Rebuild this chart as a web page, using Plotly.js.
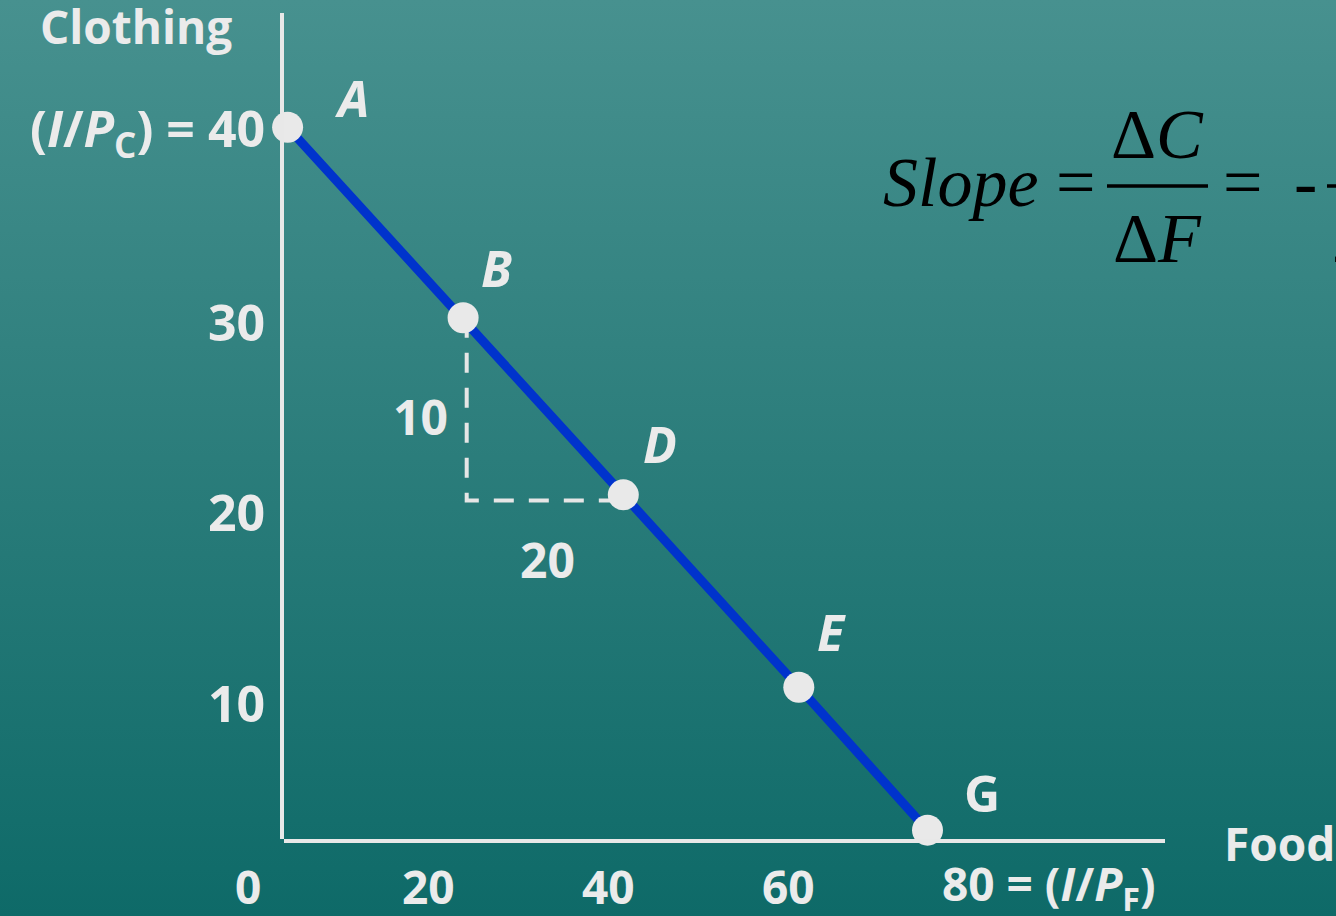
<!DOCTYPE html>
<html>
<head>
<meta charset="utf-8">
<script src="https://cdn.plot.ly/plotly-3.0.1.min.js"></script>
<style>
  html, body { margin: 0; padding: 0; }
  body { width: 1336px; height: 916px; overflow: hidden;
         background: linear-gradient(to bottom, #47918f 0%, #2b7d7b 50%, #0e6a68 100%); }
  #chart { width: 1336px; height: 916px; }
</style>
</head>
<body>
<div id="chart"></div>
<script>
// ---- data (chart units) ----
const pointLabels = ["A", "B", "D", "E", "G"];
const food        = [4.4, 23.9, 41.7, 61.2, 75.5];
const clothing    = [40.2, 30.2, 20.9, 10.8, 3.3];

const dashFood     = [24.3, 24.3, 41.7];
const dashClothing = [30.2, 20.6, 20.6];

const xTickVals = [0, 20, 40, 60, 80];
const xTickText = ["0", "20", "40", "60", "80 = (<i>I</i>/<i>P</i><sub>F</sub>)"];
const yTickVals = [10, 20, 30, 40];
const yTickText = ["10", "20", "30", "(<i>I</i>/<i>P</i><sub>C</sub>) = 40"];

const riseLabel = "10";
const runLabel  = "20";

// ---- layout helpers (pixel placement -> axis units) ----
const W = 1336, H = 916;
const X0PX = 248, XPXU = 9;        // px of food=0, px per unit
const Y40PX = 131, YPXU = 19.05;   // px of clothing=40, px per unit
const fx = px => (px - X0PX) / XPXU;
const fy = py => 40 - (py - Y40PX) / YPXU;

const WHITE = "#ebebeb";
const SANS = "'Open Sans', 'DejaVu Sans', sans-serif";
const SERIF = "'Liberation Serif', 'Times New Roman', serif";

const traces = [
  { type: "scatter", mode: "lines", x: dashFood, y: dashClothing,
    line: { color: "#e6e6e6", width: 4, dash: "20px,15px" },
    hoverinfo: "skip", cliponaxis: false },
  { type: "scatter", mode: "lines+markers", x: food, y: clothing,
    line: { color: "#0033cc", width: 9 },
    marker: { size: 31, color: "#e9e9e9" },
    cliponaxis: false, hoverinfo: "x+y" }
];

const labelShift = [[64, 29], [33, 50], [37, 51], [33, 55], [54, 37]];
const annotations = [];

pointLabels.forEach((t, i) => {
  annotations.push({
    x: food[i], y: clothing[i], xref: "x", yref: "y", showarrow: false,
    text: t === "G" ? t : "<i>" + t + "</i>",
    xshift: labelShift[i][0], yshift: labelShift[i][1],
    font: { family: SANS, size: 50, color: WHITE, weight: "bold" }
  });
});

xTickVals.forEach((v, i) => {
  const last = i === xTickVals.length - 1;
  annotations.push({
    x: v, y: fy(886), xref: "x", yref: "y", showarrow: false,
    text: xTickText[i], xanchor: last ? "left" : "center", yanchor: "middle",
    xshift: last ? -28 : 0,
    font: { family: SANS, size: 46, color: WHITE, weight: "bold" }
  });
});

yTickVals.forEach((v, i) => {
  annotations.push({
    x: fx(267), y: v, xref: "x", yref: "y", showarrow: false,
    text: yTickText[i], xanchor: "right", yanchor: "middle",
    font: { family: SANS, size: 50, color: WHITE, weight: "bold" }
  });
});

// rise / run labels
annotations.push({ x: fx(420), y: fy(416), xref: "x", yref: "y", showarrow: false,
  text: riseLabel, font: { family: SANS, size: 48, color: WHITE, weight: "bold" } });
annotations.push({ x: fx(547), y: fy(559), xref: "x", yref: "y", showarrow: false,
  text: runLabel, font: { family: SANS, size: 48, color: WHITE, weight: "bold" } });

// axis titles
annotations.push({ x: fx(136), y: fy(26), xref: "x", yref: "y", showarrow: false,
  text: "Clothing", font: { family: SANS, size: 46, color: WHITE, weight: "bold" } });
annotations.push({ x: fx(1222), y: fy(843), xref: "x", yref: "y", showarrow: false,
  text: "Food", xanchor: "left",
  font: { family: SANS, size: 46, color: WHITE, weight: "bold" } });

// slope formula
const fF = { family: SERIF, size: 70, color: "#000000" };
const rowY = 182;
annotations.push({ x: fx(881), y: fy(rowY), xref: "x", yref: "y", showarrow: false,
  xanchor: "left", text: "<i>Slope</i> =", font: fF });
annotations.push({ x: fx(1157), y: fy(134), xref: "x", yref: "y", showarrow: false,
  text: "Δ<i>C</i>", font: fF });
annotations.push({ x: fx(1157), y: fy(238), xref: "x", yref: "y", showarrow: false,
  text: "Δ<i>F</i>", font: fF });
annotations.push({ x: fx(1242), y: fy(rowY), xref: "x", yref: "y", showarrow: false,
  text: "=", font: fF });
annotations.push({ x: fx(1305), y: fy(rowY), xref: "x", yref: "y", showarrow: false,
  text: "-", font: fF });
annotations.push({ x: fx(1330), y: fy(238), xref: "x", yref: "y", showarrow: false,
  xanchor: "left", text: "2", font: fF });

const shapes = [
  // axes
  { type: "line", xref: "x", yref: "y", x0: fx(282), x1: fx(282), y0: fy(839), y1: fy(13),
    line: { color: "#e8e8e8", width: 4 } },
  { type: "line", xref: "x", yref: "y", x0: fx(284), x1: fx(1165), y0: fy(841), y1: fy(841),
    line: { color: "#e8e8e8", width: 4 } },
  // fraction bars
  { type: "line", xref: "x", yref: "y", x0: fx(1107), x1: fx(1208), y0: fy(186), y1: fy(186),
    line: { color: "#000000", width: 3.5 } },
  { type: "line", xref: "x", yref: "y", x0: fx(1327), x1: fx(1420), y0: fy(186), y1: fy(186),
    line: { color: "#000000", width: 3.5 } }
];

const layout = {
  width: W, height: H,
  margin: { l: 0, r: 0, t: 0, b: 0 },
  paper_bgcolor: "rgba(0,0,0,0)", plot_bgcolor: "rgba(0,0,0,0)",
  showlegend: false,
  xaxis: { range: [fx(0), fx(W)], visible: false, fixedrange: true },
  yaxis: { range: [fy(H), fy(0)], visible: false, fixedrange: true },
  annotations: annotations,
  shapes: shapes
};

Plotly.newPlot("chart", traces, layout, { displayModeBar: false, staticPlot: true });
</script>
</body>
</html>
